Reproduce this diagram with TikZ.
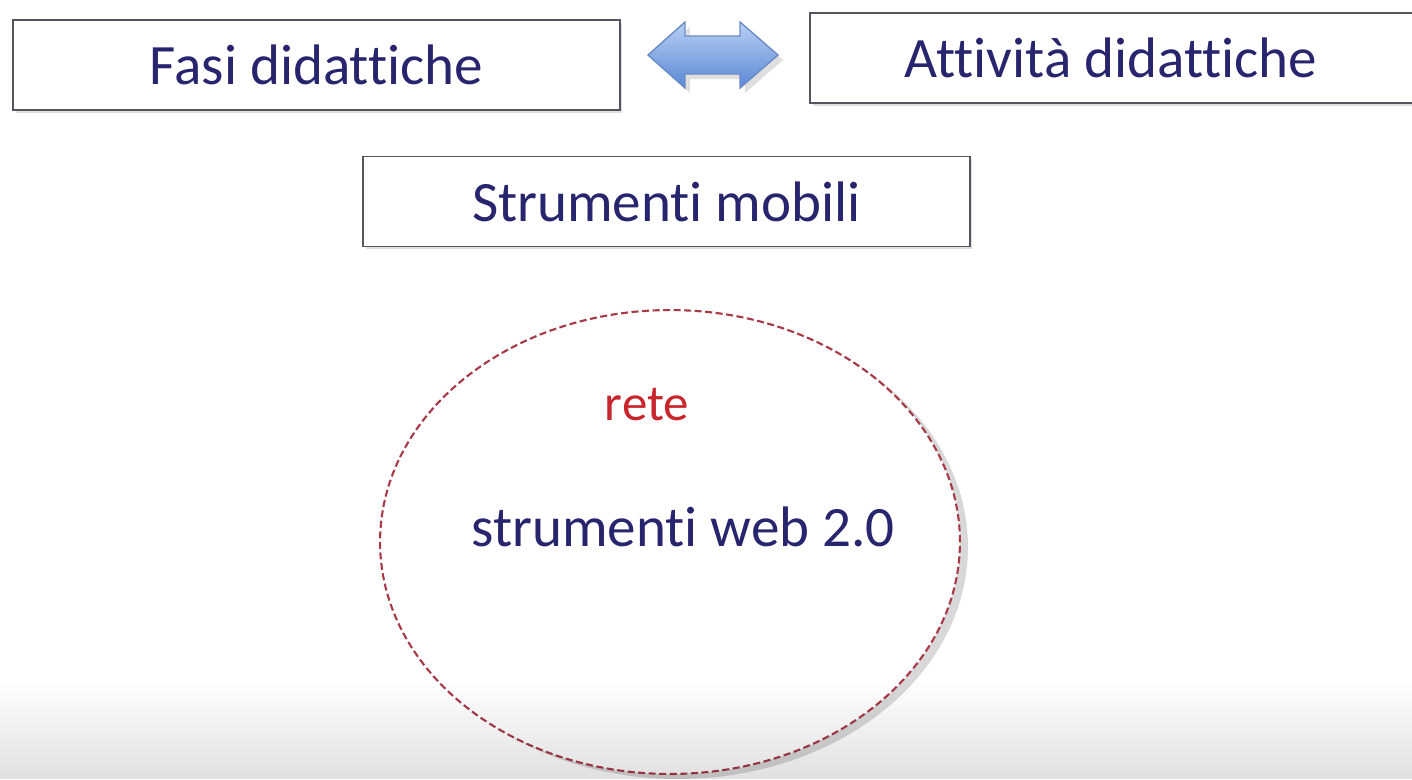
\documentclass[tikz,border=0pt]{standalone}
\usepackage{fontspec}
\setmainfont{Carlito}[Ligatures=NoCommon]
\usepackage{tikz}
\usetikzlibrary{shapes.geometric}
\usetikzlibrary{shadows}
\usetikzlibrary{fadings}
\definecolor{inkblue}{HTML}{28256F}
\definecolor{netred}{HTML}{C8262C}
\definecolor{ringred}{HTML}{A83A48}
\definecolor{boxgray}{HTML}{555560}
\definecolor{arrowtop}{HTML}{B8D0F2}
\definecolor{arrowbot}{HTML}{5A88D6}
\definecolor{arrowline}{HTML}{6A8CC8}
\begin{document}
\begin{tikzpicture}[x=0.02cm, y=-0.02cm,
    phasebox/.style={draw=boxgray, line width=1.1pt, fill=white, minimum width=12.14cm, minimum height=1.8cm,
      font=\fontsize{32.5}{36}\selectfont, text=inkblue,
      drop shadow={opacity=0.25, shadow xshift=0.05cm, shadow yshift=-0.05cm}},
    netring/.style={ellipse, draw=ringred, line width=1.2pt, dash pattern=on 4pt off 2pt, fill=white,
      minimum width=11.6cm, minimum height=9.28cm,
      drop shadow={opacity=0.3, shadow xshift=0.16cm, shadow yshift=-0.1cm}},
    arrowfill/.style={draw=arrowline, line width=0.8pt, top color=arrowtop, bottom color=arrowbot,
      drop shadow={opacity=0.25, shadow xshift=0.1cm, shadow yshift=-0.1cm}}]
    \useasboundingbox (0,0) rectangle (1412,779);
    \clip (0,0) rectangle (1412,779);
    \fill[white] (0,0) rectangle (1412,779);
    \node[phasebox] (fasi) at (316.5,65) {Fasi didattiche};
    \node[phasebox, minimum width=16cm] (attivita) at (1210,58) {\hspace*{-3.96cm}Attività didattiche};
    \node[phasebox] (mobili) at (666.5,201.5) {Strumenti mobili};
    \draw[arrowfill] (648,55) -- (685,22) -- (685,36) -- (740,36) -- (740,22) -- (778,55)
      -- (740,88) -- (740,74) -- (685,74) -- (685,88) -- cycle;
    \node[netring] (net) at (670,542) {};
    \node[text=netred, font=\fontsize{29}{32}\selectfont] (rete) at (647,405) {rete};
    \node[text=inkblue, font=\fontsize{32.5}{36}\selectfont] (web) at (683,527) {strumenti web 2.0};
    \fill[black, fill opacity=0.12, path fading=north] (0,680) rectangle (1412,779);
\end{tikzpicture}
\end{document}
